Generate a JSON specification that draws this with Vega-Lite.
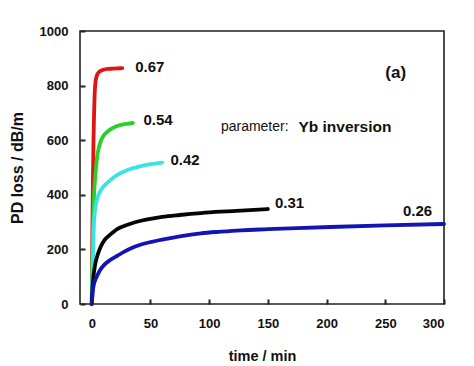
{
  "$schema": "https://vega.github.io/schema/vega-lite/v6.json",
  "width": 364,
  "height": 273,
  "autosize": {"type": "none"},
  "padding": {"left": 80, "top": 31, "right": 30, "bottom": 62},
  "background": "white",
  "config": {
    "view": {"stroke": "#222", "strokeWidth": 1.6},
    "font": "Liberation Sans",
    "axis": {"grid": false, "domain": false, "labelFont": "Liberation Sans", "labelFontWeight": "bold", "labelFontSize": 13, "labelColor": "#111", "titleFont": "Liberation Sans", "titleFontWeight": "bold", "titleFontSize": 15, "titleColor": "#111"}
  },
  "datasets": {
    "curves": [
      {"s": "0.67", "t": 0, "v": 0}, {"s": "0.67", "t": 0.5, "v": 250}, {"s": "0.67", "t": 1, "v": 450}, {"s": "0.67", "t": 1.5, "v": 600}, {"s": "0.67", "t": 2, "v": 700}, {"s": "0.67", "t": 2.5, "v": 770}, {"s": "0.67", "t": 3, "v": 805}, {"s": "0.67", "t": 4, "v": 832}, {"s": "0.67", "t": 5, "v": 843}, {"s": "0.67", "t": 6, "v": 849}, {"s": "0.67", "t": 8, "v": 855}, {"s": "0.67", "t": 10, "v": 858}, {"s": "0.67", "t": 14, "v": 861}, {"s": "0.67", "t": 18, "v": 862}, {"s": "0.67", "t": 22, "v": 863}, {"s": "0.67", "t": 26, "v": 864},
      {"s": "0.54", "t": 0, "v": 0}, {"s": "0.54", "t": 0.5, "v": 150}, {"s": "0.54", "t": 1, "v": 260}, {"s": "0.54", "t": 1.5, "v": 340}, {"s": "0.54", "t": 2, "v": 400}, {"s": "0.54", "t": 3, "v": 465}, {"s": "0.54", "t": 4, "v": 515}, {"s": "0.54", "t": 5, "v": 550}, {"s": "0.54", "t": 6, "v": 572}, {"s": "0.54", "t": 8, "v": 600}, {"s": "0.54", "t": 10, "v": 616}, {"s": "0.54", "t": 13.6, "v": 632}, {"s": "0.54", "t": 18, "v": 645}, {"s": "0.54", "t": 25, "v": 656}, {"s": "0.54", "t": 30, "v": 660}, {"s": "0.54", "t": 35, "v": 663},
      {"s": "0.42", "t": 0, "v": 0}, {"s": "0.42", "t": 0.5, "v": 80}, {"s": "0.42", "t": 1, "v": 160}, {"s": "0.42", "t": 1.5, "v": 250}, {"s": "0.42", "t": 2, "v": 305}, {"s": "0.42", "t": 3, "v": 350}, {"s": "0.42", "t": 5, "v": 390}, {"s": "0.42", "t": 8, "v": 418}, {"s": "0.42", "t": 13.6, "v": 445}, {"s": "0.42", "t": 20, "v": 468}, {"s": "0.42", "t": 30, "v": 490}, {"s": "0.42", "t": 40, "v": 503}, {"s": "0.42", "t": 50, "v": 512}, {"s": "0.42", "t": 60, "v": 518},
      {"s": "0.31", "t": 0, "v": 0}, {"s": "0.31", "t": 0.5, "v": 50}, {"s": "0.31", "t": 1, "v": 80}, {"s": "0.31", "t": 2, "v": 120}, {"s": "0.31", "t": 3.4, "v": 155}, {"s": "0.31", "t": 5, "v": 180}, {"s": "0.31", "t": 7.6, "v": 210}, {"s": "0.31", "t": 11, "v": 235}, {"s": "0.31", "t": 16, "v": 255}, {"s": "0.31", "t": 22, "v": 275}, {"s": "0.31", "t": 27, "v": 285}, {"s": "0.31", "t": 33, "v": 294}, {"s": "0.31", "t": 42, "v": 305}, {"s": "0.31", "t": 50, "v": 312}, {"s": "0.31", "t": 60, "v": 319}, {"s": "0.31", "t": 75, "v": 326}, {"s": "0.31", "t": 93, "v": 333}, {"s": "0.31", "t": 110, "v": 338}, {"s": "0.31", "t": 127, "v": 342}, {"s": "0.31", "t": 150, "v": 348},
      {"s": "0.26", "t": 0, "v": 0}, {"s": "0.26", "t": 0.5, "v": 25}, {"s": "0.26", "t": 1, "v": 50}, {"s": "0.26", "t": 2, "v": 75}, {"s": "0.26", "t": 3.4, "v": 92}, {"s": "0.26", "t": 5, "v": 107}, {"s": "0.26", "t": 7.6, "v": 127}, {"s": "0.26", "t": 11, "v": 145}, {"s": "0.26", "t": 16, "v": 162}, {"s": "0.26", "t": 22, "v": 177}, {"s": "0.26", "t": 27, "v": 190}, {"s": "0.26", "t": 35, "v": 207}, {"s": "0.26", "t": 42, "v": 218}, {"s": "0.26", "t": 50, "v": 227}, {"s": "0.26", "t": 60, "v": 236}, {"s": "0.26", "t": 75, "v": 248}, {"s": "0.26", "t": 93, "v": 259}, {"s": "0.26", "t": 110, "v": 265}, {"s": "0.26", "t": 127, "v": 270}, {"s": "0.26", "t": 150, "v": 274}, {"s": "0.26", "t": 175, "v": 278}, {"s": "0.26", "t": 203, "v": 282}, {"s": "0.26", "t": 250, "v": 288}, {"s": "0.26", "t": 300, "v": 293}
    ],
    "labels": [
      {"label": "0.67", "t": 37, "v": 868},
      {"label": "0.54", "t": 44, "v": 674},
      {"label": "0.42", "t": 67, "v": 527},
      {"label": "0.31", "t": 156, "v": 369},
      {"label": "0.26", "t": 265, "v": 340}
    ]
  },
  "layer": [
    {
      "data": {"name": "curves"},
      "mark": {"type": "line", "strokeWidth": 3.8, "interpolate": "monotone", "strokeCap": "round"},
      "encoding": {
        "x": {"field": "t", "type": "quantitative", "scale": {"domain": [-10, 300], "nice": false, "zero": false},
          "axis": {"orient": "bottom", "title": "time / min", "titleFontSize": 14.5, "values": [0, 50, 100, 150, 200, 250, 300], "ticks": true, "tickSize": -5, "tickColor": "#222", "tickWidth": 2, "tickOpacity": 1, "zindex": 1, "labelPadding": 18, "titlePadding": 19}},
        "y": {"field": "v", "type": "quantitative", "scale": {"domain": [0, 1000], "nice": false},
          "axis": {"orient": "left", "title": "PD loss  /  dB/m", "titleFontSize": 16, "format": "d", "values": [0, 200, 400, 600, 800, 1000], "ticks": true, "tickSize": -5, "tickColor": "#222", "tickWidth": 2, "tickOpacity": 1, "zindex": 1, "labelPadding": 17, "titlePadding": 14}},
        "color": {"field": "s", "type": "nominal", "legend": null,
          "scale": {"domain": ["0.67", "0.54", "0.42", "0.31", "0.26"], "range": ["#dd1515", "#2ad02a", "#38e4e4", "#050505", "#1414b4"]}},
        "order": {"field": "t", "type": "quantitative"}
      }
    },
    {
      "data": {"name": "labels"},
      "mark": {"type": "text", "align": "left", "baseline": "middle", "fontWeight": "bold", "fontSize": 15, "color": "#111"},
      "encoding": {
        "x": {"field": "t", "type": "quantitative"},
        "y": {"field": "v", "type": "quantitative"},
        "text": {"field": "label"}
      }
    },
    {
      "data": {"values": [{"txt": "(a)", "t": 250, "v": 845}]},
      "mark": {"type": "text", "align": "left", "baseline": "middle", "fontWeight": "bold", "fontSize": 17, "color": "#111"},
      "encoding": {
        "x": {"field": "t", "type": "quantitative"},
        "y": {"field": "v", "type": "quantitative"},
        "text": {"field": "txt"}
      }
    },
    {
      "data": {"values": [{"txt": "parameter:", "t": 110, "v": 648}]},
      "mark": {"type": "text", "align": "left", "baseline": "middle", "fontWeight": "normal", "fontSize": 14, "color": "#111"},
      "encoding": {
        "x": {"field": "t", "type": "quantitative"},
        "y": {"field": "v", "type": "quantitative"},
        "text": {"field": "txt"}
      }
    },
    {
      "data": {"values": [{"txt": "Yb inversion", "t": 176, "v": 648}]},
      "mark": {"type": "text", "align": "left", "baseline": "middle", "fontWeight": "bold", "fontSize": 15.5, "color": "#111"},
      "encoding": {
        "x": {"field": "t", "type": "quantitative"},
        "y": {"field": "v", "type": "quantitative"},
        "text": {"field": "txt"}
      }
    }
  ]
}
